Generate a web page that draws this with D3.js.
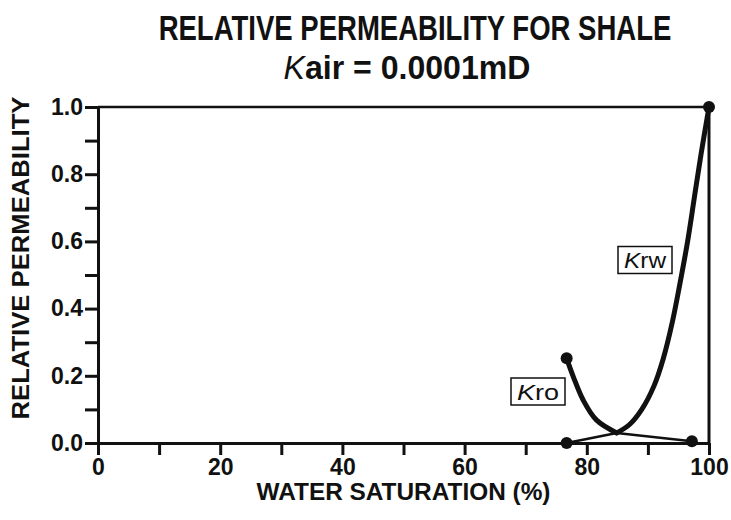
<!DOCTYPE html>
<html>
<head>
<meta charset="utf-8">
<script src="https://cdn.jsdelivr.net/npm/d3@7"></script>
<style>
  html, body { margin: 0; padding: 0; background: #fff; }
  svg { display: block; }
  text { font-family: "Liberation Sans", Arial, Helvetica, sans-serif; font-weight: bold; fill: #111; }
</style>
</head>
<body>
<svg id="chart" width="731" height="520"></svg>
<script>
// Water saturation (%) and relative permeability readings
const kroSw  = [76.7, 77.8, 79.4, 81.6, 84.9, 97.2];
const kroVal = [0.252, 0.197, 0.128, 0.068, 0.03, 0.005];
const kroThickCount = 5;   // measured segment drawn heavy; tail drawn light

const krwSw  = [76.7, 84.9, 87.0, 89.0, 91.0, 92.5, 94.0, 95.3, 96.5, 97.6, 98.7, 100];
const krwVal = [0.0, 0.03, 0.055, 0.10, 0.17, 0.25, 0.36, 0.48, 0.60, 0.73, 0.86, 1.0];
const krwThinCount = 2;    // light lead-in, then heavy measured curve

const kroMarkers = [[76.7, 0.252], [97.2, 0.005]];
const krwMarkers = [[76.7, 0.0], [100, 1.0]];

const xTicks = [0, 10, 20, 30, 40, 50, 60, 70, 80, 90, 100];
const xTickLabels = ["0", "", "20", "", "40", "", "60", "", "80", "", "100"];
const yTicks = [0, 0.1, 0.2, 0.3, 0.4, 0.5, 0.6, 0.7, 0.8, 0.9, 1.0];
const yTickLabels = ["0.0", "", "0.2", "", "0.4", "", "0.6", "", "0.8", "", "1.0"];

const titleLine1 = "RELATIVE PERMEABILITY FOR SHALE";
const titleLine2Sym = "K";
const titleLine2Rest = "air = 0.0001mD";
const xTitle = "WATER SATURATION (%)";
const yTitle = "RELATIVE PERMEABILITY";

const svg = d3.select("#chart");
const margin = { top: 107, right: 22, bottom: 77, left: 98 };
const W = 731, H = 520;
const iw = W - margin.left - margin.right;
const ih = H - margin.top - margin.bottom;

const x = d3.scaleLinear().domain([0, 100]).range([0, iw]);
const y = d3.scaleLinear().domain([0, 1]).range([ih, 0]);

// condensed heading: draw the text at the origin, then squeeze it to the wanted width
function narrowText(cx, cy, width, size, build, rotate) {
  const holder = svg.append("g");
  const inner = holder.append("g");
  const t = inner.append("text").attr("x", 0).attr("y", 0).attr("text-anchor", "middle")
    .style("font-size", size + "px");
  build(t);
  const natural = t.node().getComputedTextLength();
  inner.attr("transform", `scale(${width / natural},1)`);
  holder.attr("transform", `translate(${cx},${cy})` + (rotate ? ` rotate(${rotate})` : ""));
}

narrowText(415, 40, 513, 36, t => t.text(titleLine1));
narrowText(407, 79, 247, 34, t => {
  t.append("tspan").style("font-style", "italic").style("font-weight", "normal").text(titleLine2Sym);
  t.append("tspan").text(titleLine2Rest);
});

const g = svg.append("g").attr("transform", `translate(${margin.left},${margin.top})`);

// frame: top and right edges
g.append("line").attr("x1", 0).attr("x2", iw).attr("y1", 0).attr("y2", 0)
  .attr("stroke", "#111").attr("stroke-width", 2.5);
g.append("line").attr("x1", iw).attr("x2", iw).attr("y1", 0).attr("y2", ih)
  .attr("stroke", "#111").attr("stroke-width", 3);

// axes
const xAxis = d3.axisBottom(x).tickValues(xTicks)
  .tickFormat((d, i) => xTickLabels[i]).tickSize(12).tickPadding(4).tickSizeOuter(0);
const yAxis = d3.axisLeft(y).tickValues(yTicks)
  .tickFormat((d, i) => yTickLabels[i]).tickSize(13).tickPadding(2).tickSizeOuter(0);

const gx = g.append("g").attr("transform", `translate(0,${ih})`).call(xAxis);
const gy = g.append("g").call(yAxis);
[gx, gy].forEach(a => {
  a.select(".domain").attr("stroke", "#111").attr("stroke-width", 3);
  a.selectAll(".tick line").attr("stroke", "#111").attr("stroke-width", 3);
  a.selectAll(".tick text").attr("fill", "#111")
    .style("font-family", "'Liberation Sans', Arial, sans-serif")
    .style("font-weight", "bold").style("font-size", "23px");
});

// axis titles
narrowText(margin.left + iw / 2, 500, 294, 24, t => t.text(xTitle));
narrowText(29, 258, 323, 24, t => t.text(yTitle), -90);

// curves
const line = d3.line().x(d => x(d[0])).y(d => y(d[1]));
const kroPts = kroSw.map((s, i) => [s, kroVal[i]]);
const krwPts = krwSw.map((s, i) => [s, krwVal[i]]);

g.append("path").datum(kroPts.slice(0, kroThickCount))
  .attr("d", line.curve(d3.curveCatmullRom.alpha(0.5)))
  .attr("fill", "none").attr("stroke", "#111").attr("stroke-width", 5).attr("stroke-linecap", "round");
g.append("path").datum(kroPts.slice(kroThickCount - 1))
  .attr("d", line.curve(d3.curveLinear))
  .attr("fill", "none").attr("stroke", "#111").attr("stroke-width", 2.5);

g.append("path").datum(krwPts.slice(0, krwThinCount))
  .attr("d", line.curve(d3.curveLinear))
  .attr("fill", "none").attr("stroke", "#111").attr("stroke-width", 2.5);
g.append("path").datum(krwPts.slice(krwThinCount - 1))
  .attr("d", line.curve(d3.curveCatmullRom.alpha(0.5)))
  .attr("fill", "none").attr("stroke", "#111").attr("stroke-width", 5).attr("stroke-linecap", "round");

// end-point markers
g.selectAll("circle.m").data(kroMarkers.concat(krwMarkers)).join("circle")
  .attr("class", "m").attr("cx", d => x(d[0])).attr("cy", d => y(d[1]))
  .attr("r", 6).attr("fill", "#111");

// boxed curve labels (page coordinates of the box centre)
function boxLabel(cx, cy, rest) {
  const lg = svg.append("g");
  lg.append("rect").attr("x", cx - 27).attr("y", cy - 13.5).attr("width", 54).attr("height", 27)
    .attr("fill", "#fff").attr("stroke", "#111").attr("stroke-width", 1.5);
  const t = lg.append("text").attr("x", cx).attr("y", cy + 8).attr("text-anchor", "middle")
    .attr("textLength", 42).attr("lengthAdjust", "spacingAndGlyphs")
    .style("font-size", "22px").style("font-weight", "normal");
  t.append("tspan").style("font-style", "italic").text("K");
  t.append("tspan").text(rest);
}
boxLabel(538, 391.5, "ro");
boxLabel(645, 260, "rw");
</script>
</body>
</html>
